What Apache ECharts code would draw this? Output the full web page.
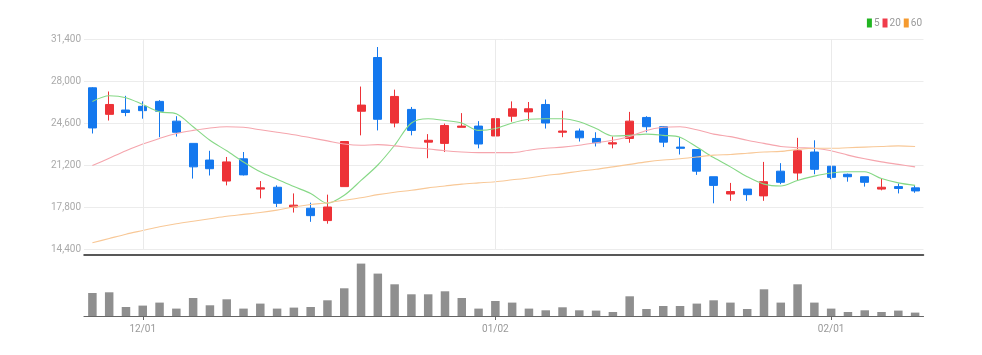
<!DOCTYPE html>
<html>
<head>
<meta charset="utf-8">
<script src="https://cdn.jsdelivr.net/npm/echarts@6/dist/echarts.min.js"></script>
<style>
html,body{margin:0;padding:0;background:#fff;}
#main{width:982px;height:355px;}
</style>
</head>
<body>
<div id="main"></div>
<script>
// ---- data ----
const dates = ['11/28','11/29','11/30','12/01','12/02','12/05','12/06','12/07','12/08','12/09',
  '12/12','12/13','12/14','12/15','12/16','12/19','12/20','12/21','12/22','12/23',
  '12/26','12/27','12/28','12/29','01/02','01/03','01/04','01/05','01/06','01/09',
  '01/10','01/11','01/12','01/13','01/16','01/17','01/18','01/19','01/20','01/25',
  '01/26','01/27','01/30','01/31','02/01','02/02','02/03','02/06','02/07','02/08'];
const tickLabels = ['12/01','01/02','02/01'];
const opens  = [27450,25300,25650,25950,26350,24750,22950,21600,19900,21700,
  19250,19400,17800,17700,16700,19450,25550,29900,24600,25700,
  23050,22950,24250,24350,23550,25150,25500,26100,23850,23950,
  23350,22900,23350,25050,24300,22650,22450,20250,18850,19250,
  18700,20700,20550,22250,21100,20450,20250,19250,19450,19350];
const closes = [24200,26100,25450,25600,25550,23850,21050,20900,21450,20400,
  19350,18100,17950,17100,17800,23100,26050,24900,26750,24000,
  23200,24400,24350,22900,24950,25750,25750,24600,23950,23400,
  23000,23000,24750,24300,23050,22550,20700,19550,19050,18800,
  19850,19800,22350,20850,20200,20250,19800,19400,19300,19100];
const lows   = [23750,24800,25150,24950,23450,23500,20100,20350,19550,20350,
  18500,17800,17350,16600,16450,19450,23600,24000,24250,23600,
  21750,22250,24250,22550,22600,24700,24750,24150,23450,23100,
  22700,22550,23000,23850,22650,22050,20400,18100,18300,18300,
  18300,19650,19950,20450,20050,19850,19450,19150,18900,18950];
const highs  = [27500,27150,26800,26350,26450,25150,22950,22350,21850,22250,
  19900,19550,18900,18150,18800,23100,27550,30750,27300,25900,
  23700,24550,25400,24750,25200,26350,26300,26500,25600,24150,
  23850,23500,25500,25150,24350,23450,22450,20250,19750,19250,
  21450,21350,23400,23200,21100,20500,20250,20100,19700,19550];
const ma5  = [26350,26800,26650,26100,25500,25350,24300,23200,22350,21450,
  20650,20050,19450,18900,18100,18750,19950,21200,22800,24600,
  24950,24800,24600,24000,24150,24600,24900,24950,24950,24700,
  24150,23550,23600,23700,23600,23450,22650,21800,21050,20250,
  19650,19500,19950,20300,20550,20650,20650,20100,19750,19550];
const ma20 = [21150,21750,22350,22900,23350,23750,24000,24200,24300,24250,
  24050,23850,23650,23400,23150,22900,22800,22850,22750,22600,
  22500,22350,22250,22200,22200,22200,22400,22550,22650,22800,
  23000,23200,23500,24000,24250,24300,24050,23700,23500,23200,
  22950,22700,22600,22550,22350,22000,21700,21450,21250,21050];
const ma60 = [14900,15250,15600,15900,16200,16450,16650,16850,17050,17200,
  17350,17550,17800,18000,18150,18350,18550,18800,19000,19150,
  19350,19500,19650,19750,19850,20000,20150,20350,20500,20700,
  20850,21050,21250,21450,21600,21700,21850,22000,22050,22150,
  22250,22300,22450,22550,22550,22600,22650,22700,22750,22700];
const volumes = [230,237,90,104,134,74,180,107,167,74,
  124,74,84,90,157,277,524,424,317,217,
  217,247,180,74,150,134,74,57,87,57,
  54,40,197,70,100,100,124,157,134,70,
  267,134,317,134,74,40,57,40,54,34];
const yTicks = {min:14400, max:31400, step:3400};

// ---- build ----
const candleData = opens.map((o,i)=>[o, closes[i], lows[i], highs[i]]);
const isTick = (idx)=> tickLabels.indexOf(dates[idx]) >= 0;
const fmt = v => String(v).replace(/\B(?=(\d{3})+(?!\d))/g, ',');
const FONT = 'Roboto,sans-serif';

const chart = echarts.init(document.getElementById('main'), null, {renderer:'canvas'});
chart.setOption({
  animation:false,
  backgroundColor:'#fff',
  legend:{
    right:60, top:18, itemWidth:5, itemHeight:9, itemGap:3, padding:0,
    icon:'rect',
    textStyle:{color:'#999', fontSize:10, fontFamily:FONT, padding:[0,0,0,-3]},
    data:[
      {name:'5', itemStyle:{color:'#22b522'}},
      {name:'20', itemStyle:{color:'#f03c4b'}},
      {name:'60', itemStyle:{color:'#f59a2f'}}
    ]
  },
  grid:[
    {left:84, right:58.5, top:39, bottom:106},
    {left:84, right:58.5, top:260, bottom:39}
  ],
  xAxis:[
    {type:'category', data:dates, gridIndex:0, boundaryGap:true, offset:6,
     axisLine:{show:true, lineStyle:{color:'#222', width:1.5}},
     axisTick:{show:false}, axisLabel:{show:false},
     splitLine:{show:false}},
    {type:'category', data:dates, gridIndex:1, boundaryGap:true,
     axisLine:{show:true, lineStyle:{color:'#666', width:1.2}},
     axisTick:{show:true, interval:(i)=>isTick(i), alignWithLabel:true, length:4, lineStyle:{color:'#666'}},
     axisLabel:{show:true, interval:(i)=>isTick(i), color:'#999', fontSize:10, fontFamily:FONT, margin:8},
     splitLine:{show:false}}
  ],
  yAxis:[
    {type:'value', gridIndex:0, min:yTicks.min, max:yTicks.max, interval:yTicks.step,
     axisLine:{show:false}, axisTick:{show:false},
     axisLabel:{color:'#aaa', fontSize:10, fontFamily:FONT, margin:3, formatter:fmt},
     splitLine:{lineStyle:{color:'#ececec', width:1}}},
    {type:'value', gridIndex:1, min:0, max:560,
     axisLine:{show:false}, axisTick:{show:false}, axisLabel:{show:false}, splitLine:{show:false}}
  ],
  series:[
    {type:'candlestick', name:'price', xAxisIndex:0, yAxisIndex:0, data:candleData, barWidth:8.5,
     itemStyle:{color:'#ed3237', color0:'#1478ee', borderColor:'#ed3237', borderColor0:'#1478ee', borderWidth:1},
     markLine:{silent:true, symbol:['none','none'], label:{show:false},
       lineStyle:{color:'#eaeaea', width:1, type:'solid'},
       data: tickLabels.map(d=>({xAxis:d}))}},
    {type:'line', name:'5', data:ma5, xAxisIndex:0, yAxisIndex:0, symbol:'none', smooth:0.3,
     itemStyle:{color:'#22b522'}, lineStyle:{color:'#86d886', width:1.1}},
    {type:'line', name:'20', data:ma20, xAxisIndex:0, yAxisIndex:0, symbol:'none', smooth:0.3,
     itemStyle:{color:'#f03c4b'}, lineStyle:{color:'#f5a5ad', width:1.1}},
    {type:'line', name:'60', data:ma60, xAxisIndex:0, yAxisIndex:0, symbol:'none', smooth:0.3,
     itemStyle:{color:'#f59a2f'}, lineStyle:{color:'#f8c897', width:1.1}},
    {type:'bar', name:'volume', data:volumes, xAxisIndex:1, yAxisIndex:1, barWidth:8.5,
     itemStyle:{color:'#8f8f8f'}}
  ]
});
</script>
</body>
</html>
